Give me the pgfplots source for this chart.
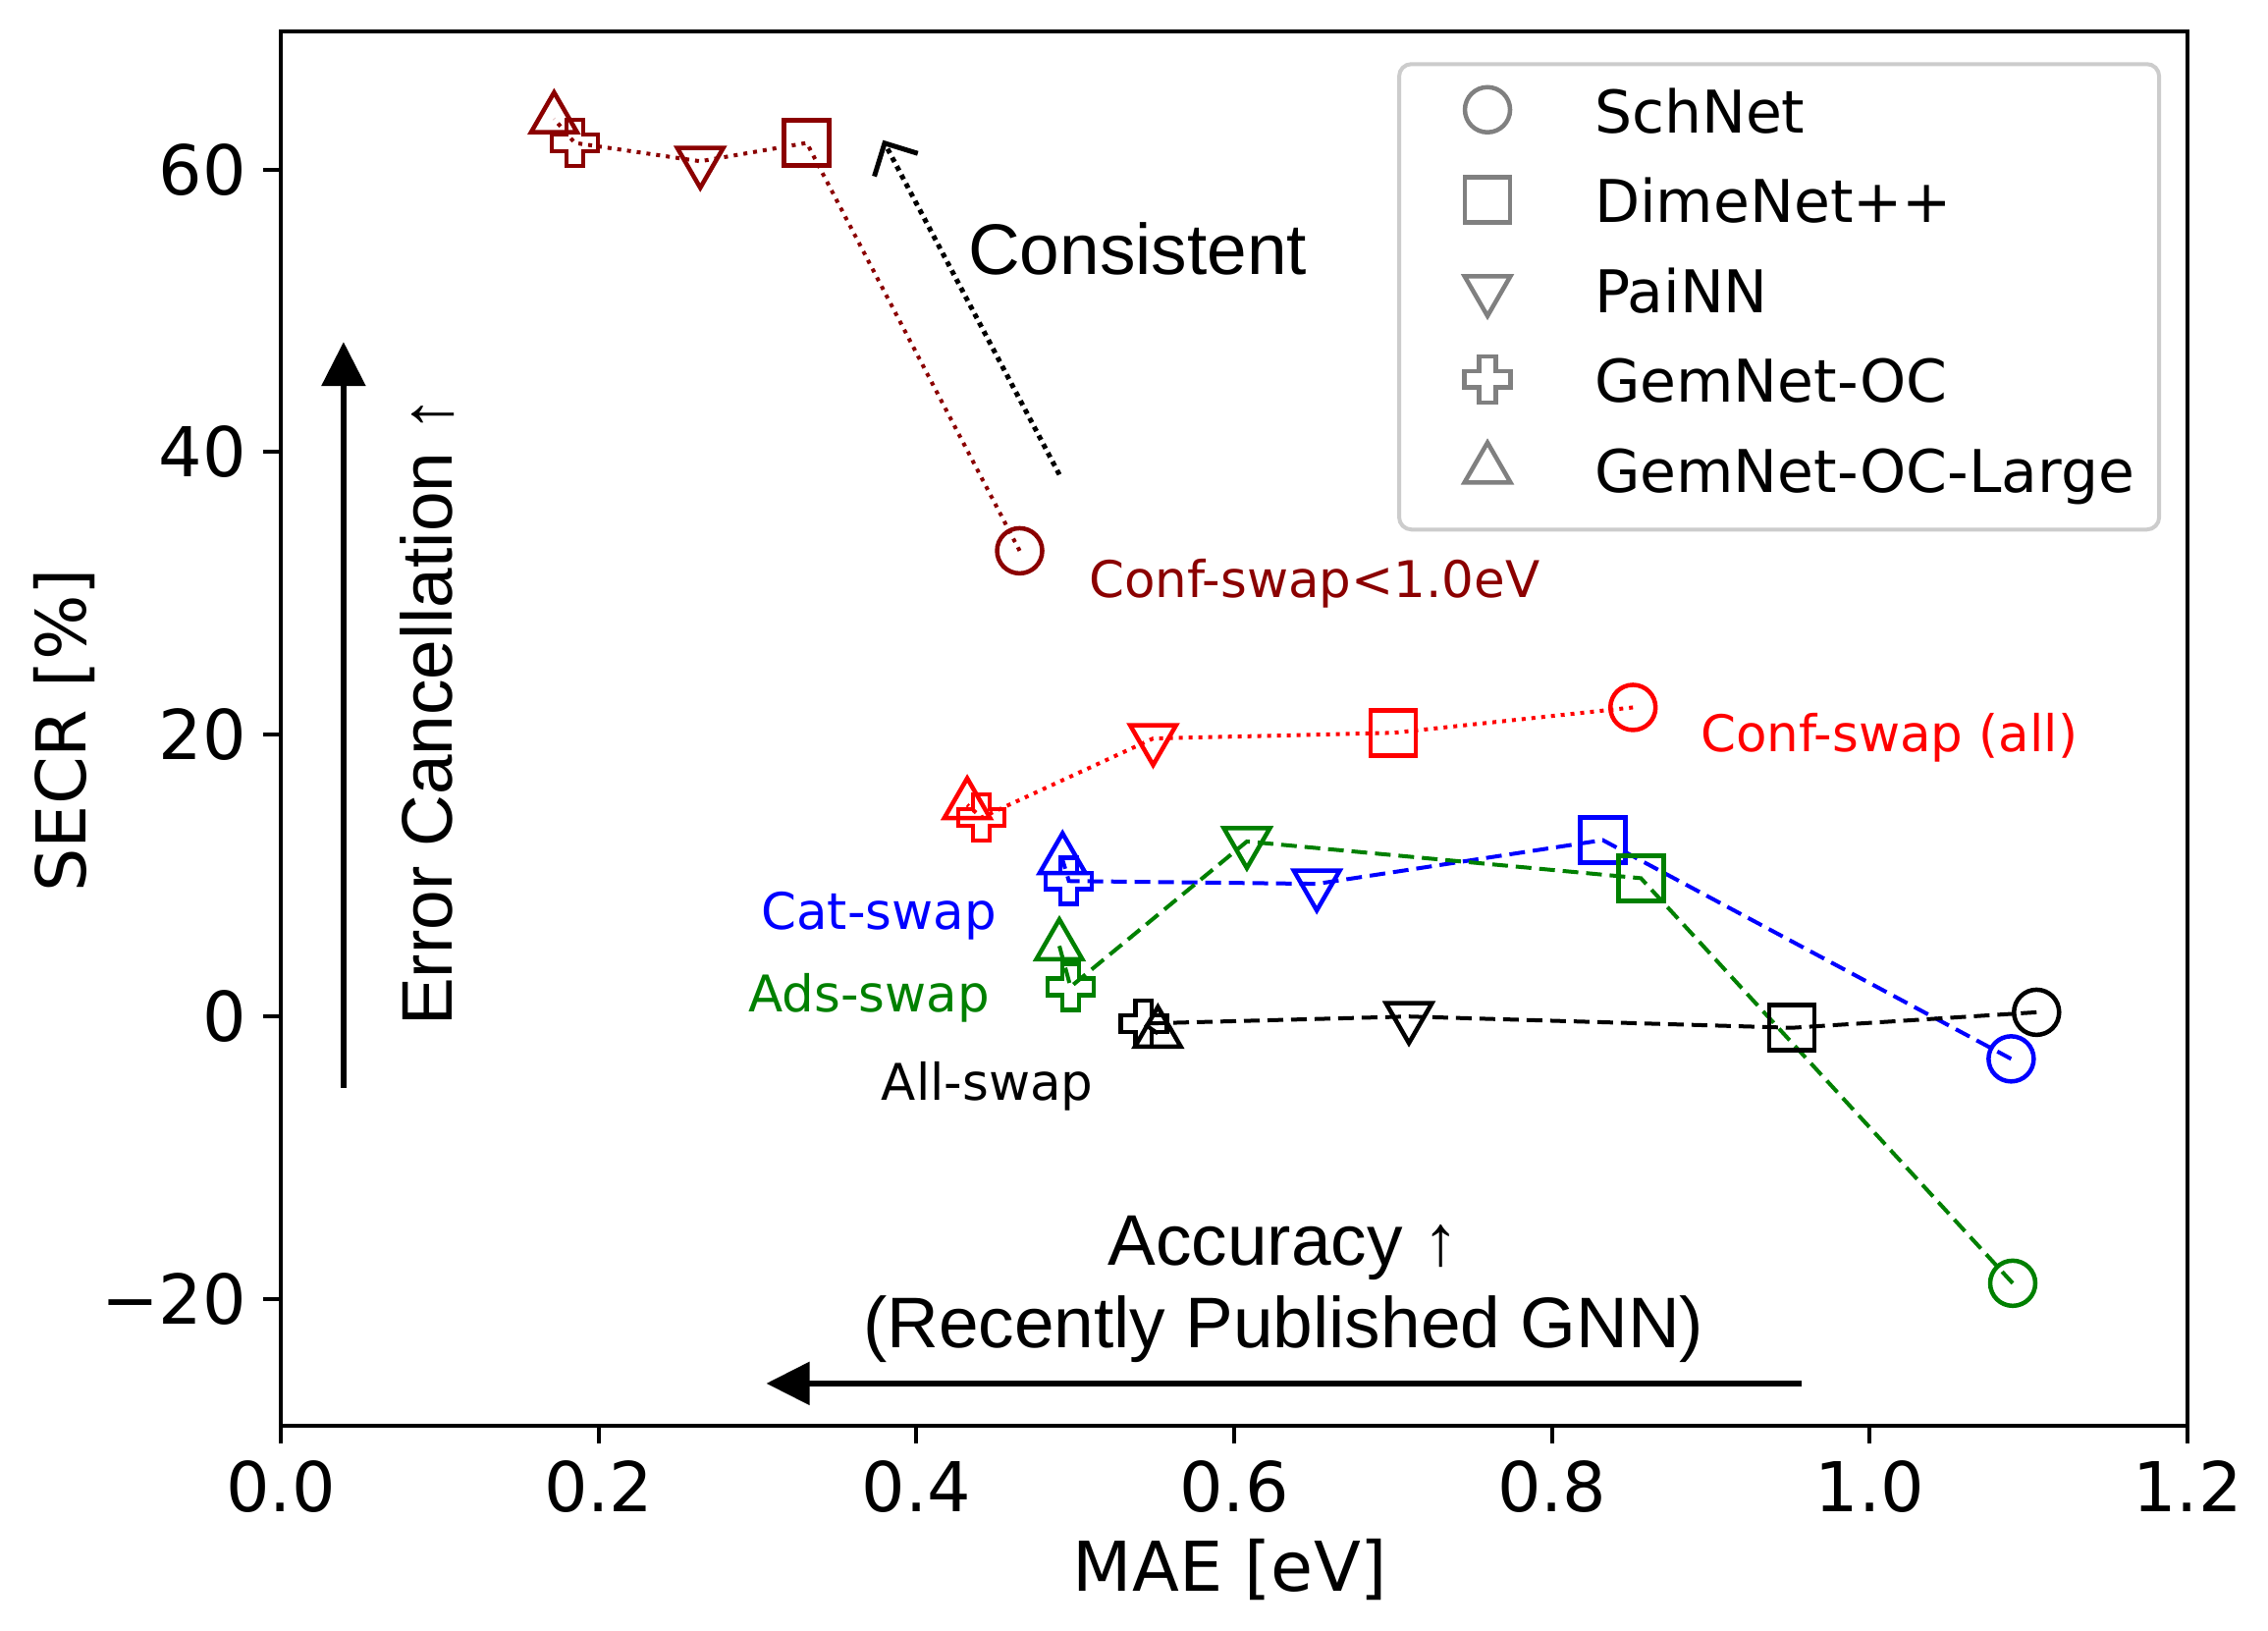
\documentclass[border=0pt]{standalone}
\usepackage{fontspec}
\setmainfont{DejaVu Sans}
\newfontfamily\arialfont{Liberation Sans}
\usepackage{pgfplots}
\pgfplotsset{compat=1.18}
\usepackage{pgfplotstable}
\usetikzlibrary{arrows.meta}

\definecolor{mpldarkred}{RGB}{139,0,0}
\definecolor{mplred}{RGB}{255,0,0}
\definecolor{mplblue}{RGB}{0,0,255}
\definecolor{mplgreen}{RGB}{0,128,0}

% matplotlib 'v' marker
\pgfdeclareplotmark{dtri}{%
  \pgfpathmoveto{\pgfqpoint{0pt}{-\pgfplotmarksize}}%
  \pgfpathlineto{\pgfqpointpolar{30}{\pgfplotmarksize}}%
  \pgfpathlineto{\pgfqpointpolar{150}{\pgfplotmarksize}}%
  \pgfpathclose\pgfusepathqstroke}
% matplotlib 'P' marker, outline only
\pgfdeclareplotmark{fatplus}{%
  \pgfpathmoveto{\pgfqpoint{-0.36\pgfplotmarksize}{\pgfplotmarksize}}%
  \pgfpathlineto{\pgfqpoint{0.36\pgfplotmarksize}{\pgfplotmarksize}}%
  \pgfpathlineto{\pgfqpoint{0.36\pgfplotmarksize}{0.36\pgfplotmarksize}}%
  \pgfpathlineto{\pgfqpoint{\pgfplotmarksize}{0.36\pgfplotmarksize}}%
  \pgfpathlineto{\pgfqpoint{\pgfplotmarksize}{-0.36\pgfplotmarksize}}%
  \pgfpathlineto{\pgfqpoint{0.36\pgfplotmarksize}{-0.36\pgfplotmarksize}}%
  \pgfpathlineto{\pgfqpoint{0.36\pgfplotmarksize}{-\pgfplotmarksize}}%
  \pgfpathlineto{\pgfqpoint{-0.36\pgfplotmarksize}{-\pgfplotmarksize}}%
  \pgfpathlineto{\pgfqpoint{-0.36\pgfplotmarksize}{-0.36\pgfplotmarksize}}%
  \pgfpathlineto{\pgfqpoint{-\pgfplotmarksize}{-0.36\pgfplotmarksize}}%
  \pgfpathlineto{\pgfqpoint{-\pgfplotmarksize}{0.36\pgfplotmarksize}}%
  \pgfpathlineto{\pgfqpoint{-0.36\pgfplotmarksize}{0.36\pgfplotmarksize}}%
  \pgfpathclose\pgfusepathqstroke}

% S = SchNet, D = DimeNet++, P = PaiNN, G = GemNet-OC, L = GemNet-OC-Large
\pgfplotstableread{
x y m
0.465 33.0 S
0.331 61.9 D
0.264 60.6 P
0.185 61.9 G
0.172 63.6 L
}\conflow
\pgfplotstableread{
x y m
0.851 21.9 S
0.700 20.1 D
0.549 19.7 P
0.441 14.1 G
0.432 15.0 L
}\confall
\pgfplotstableread{
x y m
1.089 -3.0 S
0.832 12.5 D
0.652 9.4 P
0.496 9.6 G
0.492 11.1 L
}\catswap
\pgfplotstableread{
x y m
1.090 -18.9 S
0.856 9.8 D
0.608 12.4 P
0.497 2.1 G
0.490 5.0 L
}\adsswap
\pgfplotstableread{
x y m
1.105 0.3 S
0.951 -0.8 D
0.710 0.0 P
0.543 -0.5 G
0.552 -1.2 L
}\allswap

\pgfplotsset{
  models/.style={
    scatter, scatter src=explicit symbolic,
    scatter/classes={
      S={mark=o, mark size=4.6pt},
      D={mark=square, mark size=4.6pt},
      P={mark=dtri, mark size=5.4pt},
      G={mark=fatplus, mark size=4.7pt},
      L={mark=triangle, mark size=5.4pt}},
    mark options={solid, line width=0.9pt, fill=none},
    forget plot},
  dotline/.style={line width=0.8pt, dash pattern=on 0.8pt off 1.2pt},
  dashline/.style={line width=0.8pt, dash pattern=on 3.2pt off 1.6pt},
}

\begin{document}
\begin{tikzpicture}
\begin{axis}[
    scale only axis,
    width=388.4pt, height=284pt,
    xmin=0, xmax=1.2, ymin=-29, ymax=69.8,
    xtick={0,0.2,0.4,0.6,0.8,1.0,1.2},
    xticklabels={0.0,0.2,0.4,0.6,0.8,1.0,1.2},
    ytick={-20,0,20,40,60},
    yticklabels={−20,0,20,40,60},
    tick align=outside, xtick pos=bottom, ytick pos=left,
    major tick length=3.5pt,
    tick style={black, line width=0.8pt},
    axis line style={line width=0.8pt},
    tick label style={font=\fontsize{14}{16}\selectfont},
    xlabel={MAE [eV]}, ylabel={SECR [\%]},
    every axis x label/.style={at={(axis description cs:0.498,-0.1183)}, anchor=base,
      font=\fontsize{14}{16}\selectfont},
    every axis y label/.style={at={(axis description cs:-0.102,0.4987)}, anchor=base, rotate=90,
      font=\fontsize{14}{16}\selectfont},
    clip=false,
    legend cell align=left,
    legend image code/.code={
      \path (-14.6pt,1.5pt) (6pt,1.5pt);
      \draw[sharp corners,#1] plot coordinates {(0pt,1.5pt)};},
    legend style={at={(axis description cs:0.5855,0.978)}, anchor=north west,
      draw=black!20, line width=0.8pt, rounded corners=2.5pt, fill=white,
      inner xsep=3pt, inner ysep=1.65pt, column sep=13.4pt, row sep=0pt,
      font=\fontsize{12}{14}\selectfont,
      nodes={inner xsep=2pt, inner ysep=3.35pt, text height=9pt, text depth=2.6pt}},
]
\addplot[mpldarkred, dotline, models] table[x=x, y=y, meta=m] {\conflow};
\addplot[mplred, dotline, models] table[x=x, y=y, meta=m] {\confall};
\addplot[mplblue, dashline, models] table[x=x, y=y, meta=m] {\catswap};
\addplot[mplgreen, dashline, models] table[x=x, y=y, meta=m] {\adsswap};
\addplot[black, dashline, models] table[x=x, y=y, meta=m] {\allswap};

\addlegendimage{gray, mark=o, mark size=4.6pt, mark options={line width=0.9pt}}
\addlegendentry{SchNet}
\addlegendimage{gray, mark=square, mark size=4.6pt, mark options={line width=0.9pt}}
\addlegendentry{DimeNet++}
\addlegendimage{gray, mark=dtri, mark size=5.4pt, mark options={line width=0.9pt}}
\addlegendentry{PaiNN}
\addlegendimage{gray, mark=fatplus, mark size=4.7pt, mark options={line width=0.9pt}}
\addlegendentry{GemNet-OC}
\addlegendimage{gray, mark=triangle, mark size=5.4pt, mark options={line width=0.9pt}}
\addlegendentry{GemNet-OC-Large}

% series labels
\node[anchor=base west, inner sep=0pt, text=mpldarkred, font=\fontsize{10.3}{12}\selectfont] at (axis cs:0.508,29.7) {Conf-swap<1.0eV};
\node[anchor=base west, inner sep=0pt, text=mplred, font=\fontsize{10.3}{12}\selectfont] at (axis cs:0.893,18.8) {Conf-swap (all)};
\node[anchor=base east, inner sep=0pt, text=mplblue, font=\fontsize{10.3}{12}\selectfont] at (axis cs:0.451,6.2) {Cat-swap};
\node[anchor=base east, inner sep=0pt, text=mplgreen, font=\fontsize{10.3}{12}\selectfont] at (axis cs:0.4467,0.3) {Ads-swap};
\node[anchor=base east, inner sep=0pt, text=black, font=\fontsize{10.3}{12}\selectfont] at (axis cs:0.512,-5.9) {All-swap};

% annotations
\node[anchor=base west, inner sep=0pt, font=\arialfont\fontsize{14.6}{17}\selectfont] at (axis cs:0.432,52.6) {Consistent};
\draw[black, line width=1pt, dash pattern=on 1pt off 1pt, -{Straight Barb[length=5pt, width=10pt]}]
  (axis cs:0.490,38.4) -- (axis cs:0.379,62.1);
\draw[black, line width=1.2pt, -{Triangle[length=9pt, width=8.8pt]}]
  (axis cs:0.0395,-5.05) -- (axis cs:0.0395,47.8);
\node[rotate=90, anchor=base west, inner sep=0pt, font=\arialfont\fontsize{14.6}{17}\selectfont] at (axis cs:0.108,-0.74) {Error Cancellation ↑};
\draw[black, line width=1.1pt, -{Triangle[length=8.8pt, width=8.6pt]}]
  (axis cs:0.957,-26.0) -- (axis cs:0.3056,-26.0);
\node[anchor=base, inner sep=0pt, font=\arialfont\fontsize{14.6}{17}\selectfont] at (axis cs:0.631,-17.6) {Accuracy ↑};
\node[anchor=base, inner sep=0pt, font=\arialfont\fontsize{14.6}{17}\selectfont] at (axis cs:0.631,-23.5) {(Recently Published GNN)};
\end{axis}
\pgfresetboundingbox
\path ([shift={(-57.2pt,-41.6pt)}]current axis.south west) rectangle ([shift={(16.4pt,6.4pt)}]current axis.north east);
\end{tikzpicture}
\end{document}
